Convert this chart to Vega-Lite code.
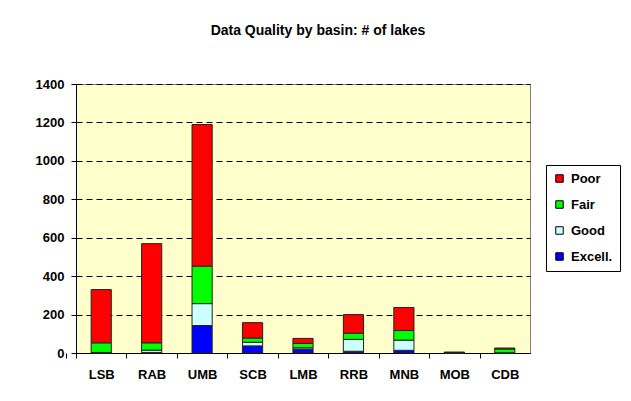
{
  "$schema": "https://vega.github.io/schema/vega-lite/v6.json",
  "width": 454,
  "height": 269,
  "autosize": {"type": "none"},
  "padding": {"left": 76, "top": 84, "right": 101, "bottom": 48},
  "background": "white",
  "title": {
    "text": "Data Quality by basin: # of lakes",
    "font": "Liberation Sans",
    "fontSize": 14,
    "fontWeight": "bold",
    "color": "black",
    "anchor": "middle",
    "dx": 15,
    "offset": 29,
    "baseline": "alphabetic"
  },
  "data": {
    "values": [
      {"basin": "LSB", "quality": "Excell.", "lakes": 0},
      {"basin": "LSB", "quality": "Good", "lakes": 3},
      {"basin": "LSB", "quality": "Fair", "lakes": 50},
      {"basin": "LSB", "quality": "Poor", "lakes": 277},
      {"basin": "RAB", "quality": "Excell.", "lakes": 3},
      {"basin": "RAB", "quality": "Good", "lakes": 12},
      {"basin": "RAB", "quality": "Fair", "lakes": 38},
      {"basin": "RAB", "quality": "Poor", "lakes": 516},
      {"basin": "UMB", "quality": "Excell.", "lakes": 143},
      {"basin": "UMB", "quality": "Good", "lakes": 114},
      {"basin": "UMB", "quality": "Fair", "lakes": 195},
      {"basin": "UMB", "quality": "Poor", "lakes": 737},
      {"basin": "SCB", "quality": "Excell.", "lakes": 37},
      {"basin": "SCB", "quality": "Good", "lakes": 19},
      {"basin": "SCB", "quality": "Fair", "lakes": 22},
      {"basin": "SCB", "quality": "Poor", "lakes": 80},
      {"basin": "LMB", "quality": "Excell.", "lakes": 20},
      {"basin": "LMB", "quality": "Good", "lakes": 7},
      {"basin": "LMB", "quality": "Fair", "lakes": 23},
      {"basin": "LMB", "quality": "Poor", "lakes": 26},
      {"basin": "RRB", "quality": "Excell.", "lakes": 9},
      {"basin": "RRB", "quality": "Good", "lakes": 62},
      {"basin": "RRB", "quality": "Fair", "lakes": 32},
      {"basin": "RRB", "quality": "Poor", "lakes": 97},
      {"basin": "MNB", "quality": "Excell.", "lakes": 14},
      {"basin": "MNB", "quality": "Good", "lakes": 53},
      {"basin": "MNB", "quality": "Fair", "lakes": 50},
      {"basin": "MNB", "quality": "Poor", "lakes": 120},
      {"basin": "MOB", "quality": "Excell.", "lakes": 0},
      {"basin": "MOB", "quality": "Good", "lakes": 0},
      {"basin": "MOB", "quality": "Fair", "lakes": 2},
      {"basin": "MOB", "quality": "Poor", "lakes": 3},
      {"basin": "CDB", "quality": "Excell.", "lakes": 0},
      {"basin": "CDB", "quality": "Good", "lakes": 1},
      {"basin": "CDB", "quality": "Fair", "lakes": 20},
      {"basin": "CDB", "quality": "Poor", "lakes": 5}
    ]
  },
  "transform": [
    {"calculate": "indexof(['Excell.','Good','Fair','Poor'], datum.quality)", "as": "stackrank"}
  ],
  "mark": {"type": "bar", "stroke": "#222222", "strokeWidth": 1},
  "encoding": {
    "x": {
      "field": "basin",
      "type": "nominal",
      "sort": ["LSB", "RAB", "UMB", "SCB", "LMB", "RRB", "MNB", "MOB", "CDB"],
      "scale": {"paddingInner": 0.6, "paddingOuter": 0.3},
      "axis": {
        "title": null,
        "labelAngle": 0,
        "labelFont": "Liberation Sans",
        "labelFontSize": 13,
        "labelFontWeight": "bold",
        "labelColor": "black",
        "labelPadding": 10,
        "ticks": true,
        "tickOffset": -25.2,
        "labelOffset": 25.2,
        "tickExtra": true,
        "tickSize": 5,
        "tickWidth": 1,
        "tickColor": "black",
        "tickOpacity": 1,
        "domainColor": "black",
        "grid": false
      }
    },
    "y": {
      "field": "lakes",
      "type": "quantitative",
      "stack": "zero",
      "scale": {"domain": [0, 1400], "nice": false},
      "axis": {
        "title": null,
        "format": "d",
        "values": [0, 200, 400, 600, 800, 1000, 1200, 1400],
        "labelFont": "Liberation Sans",
        "labelFontSize": 13,
        "labelFontWeight": "bold",
        "labelColor": "black",
        "labelPadding": 7,
        "tickSize": 5,
        "tickColor": "black",
        "domainColor": "black",
        "grid": true,
        "gridColor": "black",
        "gridDash": [6, 4],
        "gridOpacity": 1
      }
    },
    "color": {
      "field": "quality",
      "type": "nominal",
      "scale": {
        "domain": ["Poor", "Fair", "Good", "Excell."],
        "range": ["#FF0000", "#00FF00", "#CCFFFF", "#0000FF"]
      },
      "legend": {
        "title": null,
        "orient": "none",
        "legendX": 470,
        "legendY": 81,
        "symbolType": "square",
        "symbolSize": 56,
        "symbolStrokeColor": "black",
        "symbolStrokeWidth": 1,
        "labelFont": "Liberation Sans",
        "labelFontSize": 13,
        "labelFontWeight": "bold",
        "labelColor": "black",
        "labelOffset": 5,
        "rowPadding": 12,
        "padding": 7,
        "strokeColor": "black",
        "fillColor": "white"
      }
    },
    "order": {"field": "stackrank", "type": "quantitative"}
  },
  "config": {
    "view": {"fill": "#FFFFCC", "stroke": "#808080", "strokeWidth": 1}
  }
}
